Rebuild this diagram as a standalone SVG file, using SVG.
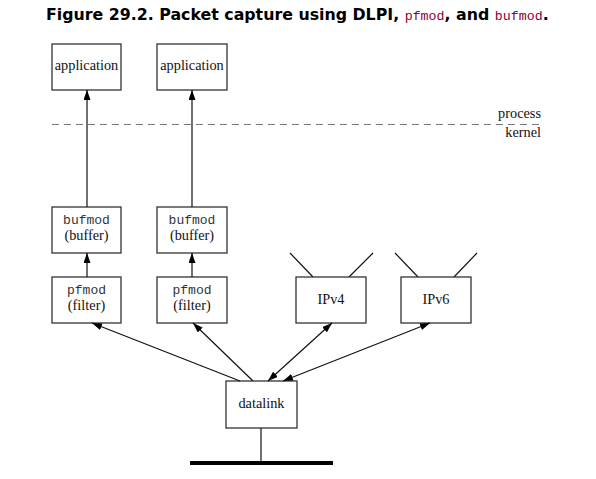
<svg xmlns="http://www.w3.org/2000/svg" width="596" height="479" viewBox="0 0 596 479">
<style>
.box{fill:#fff;stroke:#333;stroke-width:1.3}
.lbl{font-family:"Liberation Serif","Times New Roman",serif;font-size:14.3px;fill:#111;text-anchor:middle}
.mono{font-family:"Liberation Mono","Courier New",monospace;font-size:13px;fill:#333;text-anchor:middle}
.ln{stroke:#111;stroke-width:1.2;fill:none}
.title{font-family:"DejaVu Sans",Verdana,sans-serif;font-weight:bold;font-size:15.8px;fill:#000}
.tt{font-family:"Liberation Mono","Courier New",monospace;font-weight:normal;font-size:13.3px;fill:#8b0035}
</style>
<defs>
<marker id="ah" markerUnits="userSpaceOnUse" markerWidth="10" markerHeight="7" refX="10" refY="3.5" orient="auto-start-reverse">
<path d="M0,0 L10,3.5 L0,7 z" fill="#000"/>
</marker>
</defs>
<rect width="596" height="479" fill="#fff"/>
<text class="title" x="46" y="20">Figure 29.2. Packet capture using DLPI, <tspan class="tt">pfmod</tspan>, and <tspan class="tt">bufmod</tspan>.</text>

<g id="boundary">
<line x1="52" y1="124.5" x2="541" y2="124.5" stroke="#777" stroke-width="1.2" stroke-dasharray="7,5"/>
<text class="lbl" x="541" y="118" style="text-anchor:end">process</text>
<text class="lbl" x="541" y="137" style="text-anchor:end">kernel</text>
</g>

<g id="app1"><rect class="box" x="52" y="44" width="69" height="46"/><text class="lbl" x="86.5" y="70">application</text></g>
<g id="app2"><rect class="box" x="157" y="44" width="70" height="46"/><text class="lbl" x="192" y="70">application</text></g>
<g id="bufmod1"><rect class="box" x="52" y="207" width="69" height="46"/><text class="mono" x="86.5" y="224">bufmod</text><text class="lbl" x="86.5" y="240">(buffer)</text></g>
<g id="bufmod2"><rect class="box" x="157" y="207" width="70" height="46"/><text class="mono" x="192" y="224">bufmod</text><text class="lbl" x="192" y="240">(buffer)</text></g>
<g id="pfmod1"><rect class="box" x="52" y="277" width="69" height="46"/><text class="mono" x="86.5" y="294">pfmod</text><text class="lbl" x="86.5" y="310">(filter)</text></g>
<g id="pfmod2"><rect class="box" x="157" y="277" width="70" height="46"/><text class="mono" x="192" y="294">pfmod</text><text class="lbl" x="192" y="310">(filter)</text></g>
<g id="ipv4"><line class="ln" x1="313" y1="277" x2="290" y2="253"/><line class="ln" x1="349" y1="277" x2="373" y2="253"/><rect class="box" x="296" y="277" width="70" height="46"/><text class="lbl" x="331" y="304">IPv4</text></g>
<g id="ipv6"><line class="ln" x1="418" y1="277" x2="395" y2="253"/><line class="ln" x1="454" y1="277" x2="477" y2="253"/><rect class="box" x="401" y="277" width="70" height="46"/><text class="lbl" x="436" y="304">IPv6</text></g>
<g id="datalink"><rect class="box" x="226" y="381" width="71" height="47"/><text class="lbl" x="261.5" y="408">datalink</text></g>

<g id="connectors">
<line class="ln" x1="87" y1="207" x2="87" y2="90" marker-end="url(#ah)"/>
<line class="ln" x1="192" y1="207" x2="192" y2="90" marker-end="url(#ah)"/>
<line class="ln" x1="87" y1="277" x2="87" y2="253" marker-end="url(#ah)"/>
<line class="ln" x1="192" y1="277" x2="192" y2="253" marker-end="url(#ah)"/>
<line class="ln" x1="240" y1="381" x2="92" y2="323" marker-end="url(#ah)"/>
<line class="ln" x1="253" y1="381" x2="193" y2="323" marker-end="url(#ah)"/>
<line class="ln" x1="268" y1="381" x2="332" y2="323" marker-start="url(#ah)" marker-end="url(#ah)"/>
<line class="ln" x1="283" y1="381" x2="430" y2="323" marker-start="url(#ah)" marker-end="url(#ah)"/>
<line class="ln" x1="261" y1="428" x2="261" y2="463"/>
<line x1="190" y1="463" x2="333" y2="463" stroke="#000" stroke-width="4"/>
</g>
</svg>
